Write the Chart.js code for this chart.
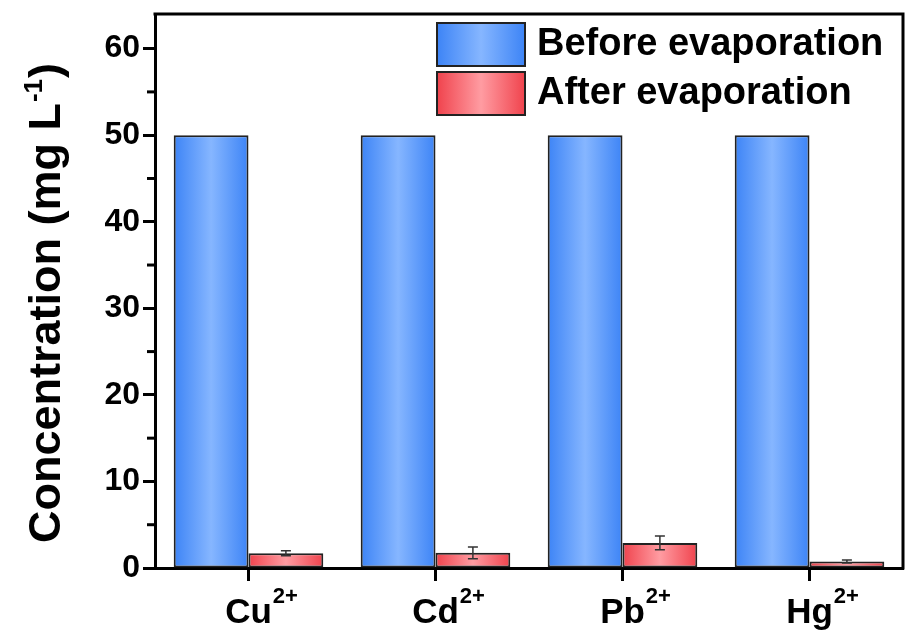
<!DOCTYPE html>
<html>
<head>
<meta charset="utf-8">
<title>Concentration before and after evaporation</title>
<script src="https://cdn.jsdelivr.net/npm/chart.js@4.4.1/dist/chart.umd.min.js"></script>
<style>
  html, body { margin: 0; padding: 0; background: #fff; }
  #wrap { width: 907px; height: 641px; position: relative; }
</style>
</head>
<body>
<div id="wrap"><canvas id="chart"></canvas></div>
<script>
const ions = ['Cu', 'Cd', 'Pb', 'Hg'];
const charge = '2+';
const before = [50, 50, 50, 50];
const after = [1.7, 1.75, 2.9, 0.75];
const afterErr = [0.28, 0.68, 0.8, 0.18];
const yTicks = [0, 10, 20, 30, 40, 50, 60];
const yMinor = [5, 15, 25, 35, 45, 55];

const FONT = "'Liberation Sans', Arial, sans-serif";
const blueStops = ['#3d84f6', '#86b6ff', '#3d84f6'];
const redStops = ['#f0434d', '#ff9ca2', '#f0434d'];

function hGradient(ctx, x0, x1, stops) {
    const g = ctx.createLinearGradient(x0, 0, x1, 0);
    g.addColorStop(0, stops[0]);
    g.addColorStop(0.5, stops[1]);
    g.addColorStop(1, stops[2]);
    return g;
}

// gradient across each bar, worked out from the category scale
function barFill(stops, side) {
    return function(c) {
        const chart = c.chart;
        const xs = chart.scales.x;
        if (!xs || xs.right === undefined || c.dataIndex === undefined) return stops[0];
        const cat = (xs.right - xs.left) / ions.length;
        const w = cat * 0.8 / 2;
        const mid = xs.getPixelForValue(c.dataIndex);
        const x0 = side === 0 ? mid - w : mid;
        return hGradient(chart.ctx, x0, x0 + w, stops);
    };
}

const decorations = {
    id: 'decorations',
    afterDraw(chart) {
        const ctx = chart.ctx;
        const a = chart.chartArea;
        const ys = chart.scales.y;
        const xs = chart.scales.x;
        ctx.save();

        // top and right frame
        ctx.strokeStyle = '#000';
        ctx.lineWidth = 3;
        ctx.beginPath();
        ctx.moveTo(a.left - 1.5, a.top);
        ctx.lineTo(a.right, a.top);
        ctx.lineTo(a.right, a.bottom + 1.5);
        ctx.stroke();

        // minor ticks on y
        yMinor.forEach(v => {
            const y = ys.getPixelForValue(v);
            ctx.beginPath();
            ctx.moveTo(a.left - 8, y);
            ctx.lineTo(a.left, y);
            ctx.stroke();
        });

        // error bars on the after-evaporation bars
        const meta = chart.getDatasetMeta(1);
        ctx.strokeStyle = '#333';
        ctx.lineWidth = 1.5;
        meta.data.forEach((bar, i) => {
            const top = ys.getPixelForValue(after[i] + afterErr[i]);
            const bot = ys.getPixelForValue(after[i] - afterErr[i]);
            ctx.beginPath();
            ctx.moveTo(bar.x, top);
            ctx.lineTo(bar.x, bot);
            ctx.moveTo(bar.x - 5, top);
            ctx.lineTo(bar.x + 5, top);
            ctx.moveTo(bar.x - 5, bot);
            ctx.lineTo(bar.x + 5, bot);
            ctx.stroke();
        });

        // category labels with superscript charge
        ctx.fillStyle = '#000';
        ctx.textBaseline = 'alphabetic';
        ions.forEach((name, i) => {
            const x = xs.getPixelForValue(i);
            ctx.font = 'bold 35px ' + FONT;
            const w = ctx.measureText(name).width;
            ctx.textAlign = 'left';
            ctx.fillText(name, x - w / 2, 623);
            ctx.font = 'bold 22px ' + FONT;
            ctx.fillText(charge, x + w / 2 + 1, 603);
        });

        // y axis title, rotated, with superscript -1
        ctx.save();
        ctx.translate(60, 303);
        ctx.rotate(-Math.PI / 2);
        const main = 'Concentration (mg L';
        const sup = '-1';
        const close = ')';
        ctx.font = 'bold 45px ' + FONT;
        const wMain = ctx.measureText(main).width;
        const wClose = ctx.measureText(close).width;
        ctx.font = 'bold 26px ' + FONT;
        const wSup = ctx.measureText(sup).width;
        let x = -(wMain + wSup + wClose + 2) / 2;
        ctx.font = 'bold 45px ' + FONT;
        ctx.fillText(main, x, 0);
        x += wMain + 1;
        ctx.font = 'bold 26px ' + FONT;
        ctx.fillText(sup, x, -18);
        x += wSup + 1;
        ctx.font = 'bold 45px ' + FONT;
        ctx.fillText(close, x, 0);
        ctx.restore();

        // legend
        const entries = [
            { label: chart.data.datasets[0].label, stops: blueStops, y: 23 },
            { label: chart.data.datasets[1].label, stops: redStops, y: 72 }
        ];
        entries.forEach(e => {
            ctx.fillStyle = hGradient(ctx, 437, 525, e.stops);
            ctx.fillRect(437, e.y, 88, 43);
            ctx.strokeStyle = '#222';
            ctx.lineWidth = 2;
            ctx.strokeRect(437, e.y, 88, 43);
            ctx.fillStyle = '#000';
            ctx.font = 'bold 38px ' + FONT;
            ctx.textAlign = 'left';
            ctx.textBaseline = 'middle';
            ctx.fillText(e.label, 537, e.y + 22);
        });

        ctx.restore();
    }
};

new Chart(document.getElementById('chart'), {
    type: 'bar',
    data: {
        labels: ions,
        datasets: [
            {
                label: 'Before evaporation',
                data: before,
                backgroundColor: barFill(blueStops, 0),
                borderColor: '#222',
                borderWidth: 2,
                borderSkipped: false,
                categoryPercentage: 0.8,
                barPercentage: 1.0
            },
            {
                label: 'After evaporation',
                data: after,
                backgroundColor: barFill(redStops, 1),
                borderColor: '#222',
                borderWidth: 2,
                borderSkipped: false,
                categoryPercentage: 0.8,
                barPercentage: 1.0
            }
        ]
    },
    options: {
        responsive: true,
        maintainAspectRatio: false,
        animation: false,
        layout: { padding: { left: 0, top: 14, right: 4, bottom: 0 } },
        plugins: {
            legend: { display: false },
            tooltip: { enabled: false }
        },
        scales: {
            x: {
                grid: {
                    offset: false,
                    drawOnChartArea: false,
                    drawTicks: true,
                    tickLength: 13,
                    tickWidth: 3,
                    color: '#000'
                },
                border: { display: true, width: 3, color: '#000' },
                ticks: { display: false },
                afterFit(scale) {
                    scale.height = 73;
                    scale.paddingLeft = 0;
                    scale.paddingRight = 0;
                }
            },
            y: {
                min: 0,
                max: 64,
                afterBuildTicks(scale) { scale.ticks = yTicks.map(v => ({ value: v })); },
                grid: {
                    drawOnChartArea: false,
                    drawTicks: true,
                    tickLength: 12,
                    tickWidth: 3,
                    color: '#000'
                },
                border: { display: true, width: 3, color: '#000' },
                ticks: {
                    color: '#000',
                    padding: 3,
                    font: { family: FONT, size: 32, weight: 'bold' }
                },
                afterFit(scale) {
                    scale.width = 155;
                    scale.paddingTop = 0;
                    scale.paddingBottom = 0;
                }
            }
        }
    },
    plugins: [decorations]
});
</script>
</body>
</html>
